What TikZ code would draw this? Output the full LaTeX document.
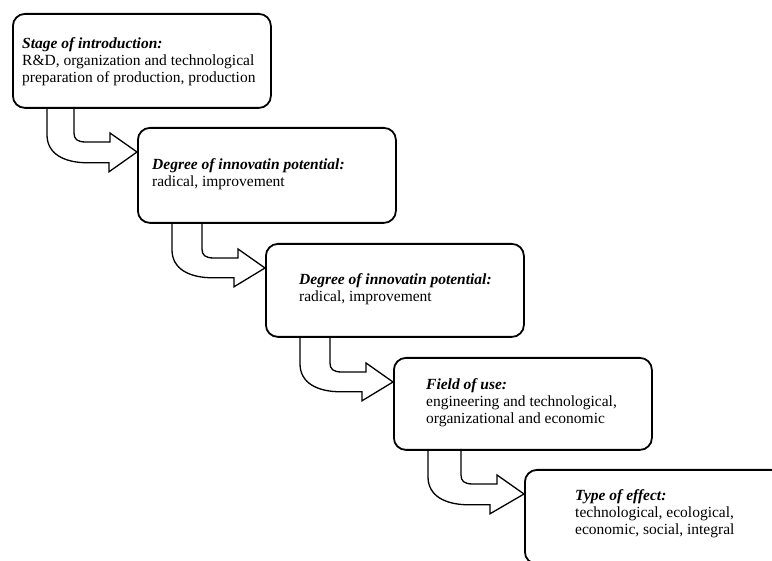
\documentclass[tikz,border=0pt]{standalone}
\usepackage{fontspec}
\setmainfont{Liberation Serif}
\usetikzlibrary{calc}
\newcommand\bentarrow[2]{%
  \coordinate (#1s) at ($(#1.south west)+(35,0)$);
  \coordinate (#2tip) at ($(#2.north west)+(0,25)$);
  \draw[arr] (#1s) -- ++(0,26) .. controls +(0,19) and +(-24,0) .. ++(41,28)
    -- ++(21,0) -- ++(0,9) -- (#2tip) -- ++(-27,-19) -- ++(0,9) -- ++(-24,0)
    .. controls +(-9,0) and +(0,6) .. ++(-12,-9) -- ++(0,-26);
}
\begin{document}
\begin{tikzpicture}[x=1pt,y=-1pt,
  box/.style={draw, line width=1.8pt, rounded corners=12pt, minimum width=258pt,
    minimum height=94pt, anchor=north west, inner sep=0pt},
  txt/.style={anchor=west, align=left, inner sep=0pt,
    font=\fontsize{15.5}{16.8}\selectfont},
  arr/.style={draw, line width=1.3pt, line join=miter}]
\useasboundingbox (0,0) rectangle (772,561);
\clip (0,0) rectangle (772,561);

\node[box] (b1) at (12,13) {};
\node[box, minimum height=95pt] (b2) at (137,127) {};
\node[box, minimum height=93pt] (b3) at (265,243) {};
\node[box, minimum height=92pt] (b4) at (393,357) {};
\node[box] (b5) at (524,469) {};

\node[txt] (t1) at ($(b1.west)+(10,1)$) {\textbf{\textit{Stage of introduction:}}\\R\&D, organization and technological\\preparation of production, production};
\node[txt] (t2) at ($(b2.west)+(15,-1)$) {\textbf{\textit{Degree of innovatin potential:}}\\radical, improvement};
\node[txt] (t3) at ($(b3.west)+(34,-1)$) {\textbf{\textit{Degree of innovatin potential:}}\\radical, improvement};
\node[txt] (t4) at ($(b4.west)+(33,-1)$) {\textbf{\textit{Field of use:}}\\engineering and technological,\\organizational and economic};
\node[txt] (t5) at ($(b5.west)+(51,-3)$) {\textbf{\textit{Type of effect:}}\\technological, ecological,\\economic, social, integral};

\bentarrow{b1}{b2}
\bentarrow{b2}{b3}
\bentarrow{b3}{b4}
\bentarrow{b4}{b5}
\end{tikzpicture}
\end{document}
